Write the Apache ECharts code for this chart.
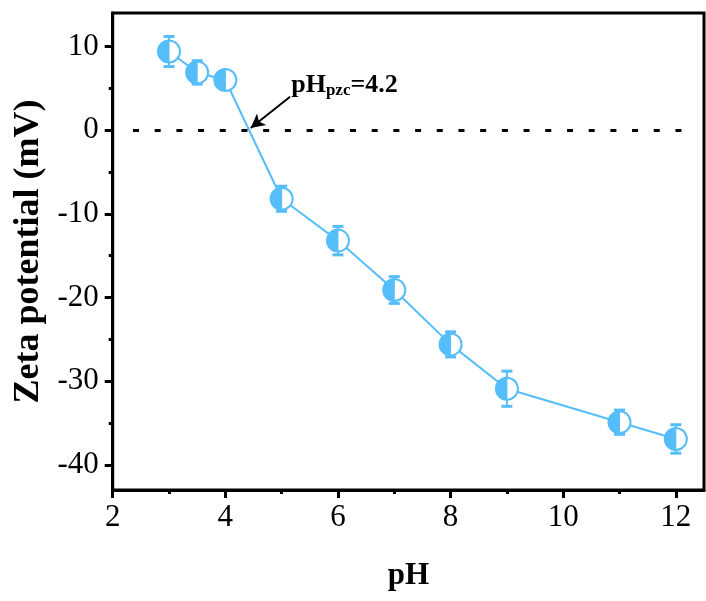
<!DOCTYPE html>
<html style="height: 100%">
<head>
    <meta charset="utf-8">
</head>
<body style="height: 100%; margin: 0; background: #fff">
    <div id="container" style="width: 706px; height: 601px"></div>
    <script src="https://cdn.jsdelivr.net/npm/echarts@6.0.0/dist/echarts.min.js"></script>
    <script>
        // data
        const phValues = [3, 3.5, 4, 5, 6, 7, 8, 9, 11, 12];
        const zetaValues = [9.4, 6.9, 6.0, -8.2, -13.2, -19.1, -25.6, -30.9, -34.9, -36.9];
        const zetaErrors = [1.8, 1.4, 1.0, 1.5, 1.7, 1.6, 1.5, 2.1, 1.45, 1.7];
        const xTickLabels = [2, 4, 6, 8, 10, 12];
        const xMinorTicks = [3, 5, 7, 9, 11];
        const yTickLabels = [-40, -30, -20, -10, 0, 10];
        const yMinorTicks = [-35, -25, -15, -5, 5];

        const blue = '#55BEFA';
        const font = '"Liberation Serif", "Times New Roman", serif';

        const dom = document.getElementById('container');
        const myChart = echarts.init(dom);

        const points = phValues.map((x, i) => [x, zetaValues[i], zetaErrors[i]]);

        function renderPoint(params, api) {
            const x = api.value(0);
            const y = api.value(1);
            const err = api.value(2);
            const c = api.coord([x, y]);
            const top = api.coord([x, y + err]);
            const bot = api.coord([x, y - err]);
            const r = 11;
            const capW = 5.5;
            return {
                type: 'group',
                children: [
                    {
                        type: 'line',
                        shape: { x1: c[0], y1: top[1], x2: c[0], y2: bot[1] },
                        style: { stroke: blue, lineWidth: 2 }
                    },
                    {
                        type: 'line',
                        shape: { x1: c[0] - capW, y1: top[1], x2: c[0] + capW, y2: top[1] },
                        style: { stroke: blue, lineWidth: 3 }
                    },
                    {
                        type: 'line',
                        shape: { x1: c[0] - capW, y1: bot[1], x2: c[0] + capW, y2: bot[1] },
                        style: { stroke: blue, lineWidth: 3 }
                    },
                    {
                        type: 'circle',
                        shape: { cx: c[0], cy: c[1], r: r },
                        style: { fill: '#fff', stroke: blue, lineWidth: 2 }
                    },
                    {
                        type: 'sector',
                        shape: { cx: c[0], cy: c[1], r0: 0, r: r, startAngle: Math.PI / 2, endAngle: Math.PI * 3 / 2 },
                        style: { fill: blue, stroke: blue, lineWidth: 1 }
                    }
                ]
            };
        }

        const option = {
            animation: false,
            backgroundColor: '#fff',
            textStyle: { fontFamily: font },
            grid: {
                left: 112.7,
                right: 2,
                top: 13,
                bottom: 111,
                show: true,
                borderColor: '#000',
                borderWidth: 3
            },
            xAxis: [
                {
                    type: 'value',
                    min: 2,
                    max: 12.5,
                    name: 'pH',
                    nameLocation: 'middle',
                    nameGap: 70,
                    nameTextStyle: { fontFamily: font, fontSize: 31, fontWeight: 'bold', color: '#000' },
                    axisLine: { show: true, onZero: false, lineStyle: { color: '#000', width: 3 } },
                    axisTick: { show: true, length: 8, lineStyle: { color: '#000', width: 3 }, customValues: xTickLabels },
                    axisLabel: { color: '#000', fontSize: 31, fontFamily: font, margin: 12, customValues: xTickLabels },
                    splitLine: { show: false }
                },
                {
                    type: 'value',
                    min: 2,
                    max: 12.5,
                    position: 'bottom',
                    axisLine: { show: false, onZero: false },
                    axisTick: { show: true, length: 4, lineStyle: { color: '#000', width: 3 }, customValues: xMinorTicks },
                    axisLabel: { show: false },
                    splitLine: { show: false }
                }
            ],
            yAxis: [
                {
                    type: 'value',
                    min: -43,
                    max: 14,
                    name: 'Zeta potential (mV)',
                    nameLocation: 'middle',
                    nameGap: 64,
                    nameTextStyle: { fontFamily: font, fontSize: 36, fontWeight: 'bold', color: '#000' },
                    axisLine: { show: true, onZero: false, lineStyle: { color: '#000', width: 3 } },
                    axisTick: { show: true, length: 8, lineStyle: { color: '#000', width: 3 }, customValues: yTickLabels },
                    axisLabel: { color: '#000', fontSize: 31, fontFamily: font, margin: 14, customValues: yTickLabels },
                    splitLine: { show: false }
                },
                {
                    type: 'value',
                    min: -43,
                    max: 14,
                    position: 'left',
                    axisLine: { show: false, onZero: false },
                    axisTick: { show: true, length: 4, lineStyle: { color: '#000', width: 3 }, customValues: yMinorTicks },
                    axisLabel: { show: false },
                    splitLine: { show: false }
                }
            ],
            series: [
                {
                    type: 'line',
                    data: points.map(p => [p[0], p[1]]),
                    symbol: 'none',
                    lineStyle: { color: blue, width: 2 },
                    z: 2,
                    markLine: {
                        silent: true,
                        symbol: 'none',
                        label: { show: false },
                        lineStyle: { color: '#000', width: 3, type: [6, 15.7], cap: 'butt' },
                        data: [[{ coord: [2.36, 0] }, { coord: [12.3, 0] }]]
                    }
                },
                {
                    type: 'line',
                    data: [],
                    markLine: {
                        silent: true,
                        symbol: ['none', 'arrow'],
                        symbolSize: [11, 14],
                        label: { show: false },
                        lineStyle: { color: '#000', width: 2, type: 'solid' },
                        data: [[{ coord: [5.15, 4.0] }, { coord: [4.45, 0.25] }]]
                    },
                    markPoint: {
                        silent: true,
                        symbol: 'circle',
                        symbolSize: 0,
                        label: {
                            show: true,
                            position: 'right',
                            distance: 0,
                            formatter: '{a|pH}{b|pzc}{a|=4.2}',
                            rich: {
                                a: { fontFamily: font, fontSize: 26, fontWeight: 'bold', color: '#000', lineHeight: 30 },
                                b: { fontFamily: font, fontSize: 17, fontWeight: 'bold', color: '#000', lineHeight: 30, padding: [12, 0, 0, 0] }
                            }
                        },
                        data: [{ coord: [5.17, 5.4] }]
                    }
                },
                {
                    type: 'custom',
                    data: points,
                    renderItem: renderPoint,
                    encode: { x: 0, y: 1 },
                    z: 3
                }
            ]
        };

        myChart.setOption(option);
    </script>
</body>
</html>
